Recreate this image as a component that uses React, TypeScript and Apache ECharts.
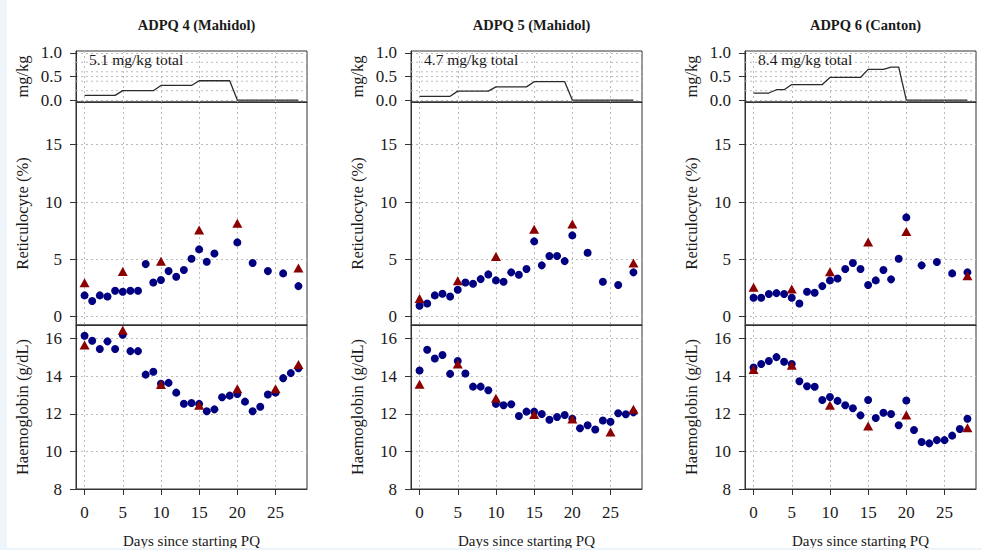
import React, { useEffect, useRef } from "react";
import * as echarts from "echarts";

// ---------- data ----------
const patients = ["ADPQ 4 (Mahidol)", "ADPQ 5 (Mahidol)", "ADPQ 6 (Canton)"];
const totals = ["5.1 mg/kg total", "4.7 mg/kg total", "8.4 mg/kg total"];

const doseDays = [0, 1, 2, 3, 4, 5, 6, 7, 8, 9, 10, 11, 12, 13, 14, 15, 16, 17, 18, 19, 20, 21, 22, 23, 24, 25, 26, 27, 28];
const dose4 = [0.1, 0.1, 0.1, 0.1, 0.1, 0.2, 0.2, 0.2, 0.2, 0.2, 0.31, 0.31, 0.31, 0.31, 0.31, 0.41, 0.41, 0.41, 0.41, 0.41, 0, 0, 0, 0, 0, 0, 0, 0, 0];
const dose5 = [0.08, 0.08, 0.08, 0.08, 0.08, 0.19, 0.19, 0.19, 0.19, 0.19, 0.28, 0.28, 0.28, 0.28, 0.28, 0.39, 0.39, 0.39, 0.39, 0.39, 0, 0, 0, 0, 0, 0, 0, 0, 0];
const dose6 = [0.15, 0.15, 0.15, 0.22, 0.22, 0.33, 0.33, 0.33, 0.33, 0.33, 0.48, 0.48, 0.48, 0.48, 0.48, 0.65, 0.65, 0.65, 0.7, 0.7, 0, 0, 0, 0, 0, 0, 0, 0, 0];

// reticulocyte (%) – daily measurements (circles)
const retDays4 = [0, 1, 2, 3, 4, 5, 6, 7, 8, 9, 10, 11, 12, 13, 14, 15, 16, 17, 20, 22, 24, 26, 28];
const ret4 = [1.86, 1.37, 1.86, 1.77, 2.27, 2.18, 2.27, 2.27, 4.59, 2.99, 3.2, 3.98, 3.49, 4.07, 5.06, 5.87, 4.8, 5.52, 6.48, 4.68, 3.98, 3.78, 2.67];
const retDays5 = [0, 1, 2, 3, 4, 5, 6, 7, 8, 9, 10, 11, 12, 13, 14, 15, 16, 17, 18, 19, 20, 22, 24, 26, 28];
const ret5 = [0.96, 1.16, 1.86, 2.0, 1.77, 2.35, 2.99, 2.88, 3.28, 3.69, 3.17, 3.05, 3.87, 3.66, 4.16, 6.57, 4.48, 5.29, 5.29, 4.85, 7.09, 5.58, 3.05, 2.76, 3.87];
const retDays6 = [0, 1, 2, 3, 4, 5, 6, 7, 8, 9, 10, 11, 12, 13, 14, 15, 16, 17, 18, 19, 20, 22, 24, 26, 28];
const ret6 = [1.66, 1.66, 1.98, 2.06, 1.98, 1.66, 1.16, 2.18, 2.09, 2.67, 3.17, 3.34, 4.16, 4.68, 4.16, 2.76, 3.17, 4.07, 3.26, 5.06, 8.66, 4.48, 4.77, 3.78, 3.87];

// reticulocyte (%) – reference lab (triangles)
const retTriDays = [0, 5, 10, 15, 20, 28];
const retTri4 = [2.97, 3.95, 4.83, 7.56, 8.14, 4.24];
const retTri5 = [1.6, 3.14, 5.26, 7.62, 8.08, 4.68];
const retTri6 = [2.56, 2.41, 3.92, 6.51, 7.44, 3.58];

// haemoglobin (g/dL) – daily (circles)
const hbDays = [0, 1, 2, 3, 4, 5, 6, 7, 8, 9, 10, 11, 12, 13, 14, 15, 16, 17, 18, 19, 20, 21, 22, 23, 24, 25, 26, 27, 28];
const hb4 = [16.16, 15.89, 15.45, 15.86, 15.45, 16.21, 15.34, 15.34, 14.09, 14.24, 13.6, 13.65, 13.13, 12.54, 12.58, 12.53, 12.14, 12.24, 12.88, 12.97, 13.06, 12.65, 12.14, 12.38, 13.03, 13.13, 13.9, 14.17, 14.43];
const hb5 = [14.31, 15.41, 14.95, 15.13, 14.13, 14.81, 14.15, 13.45, 13.45, 13.26, 12.53, 12.46, 12.51, 11.89, 12.12, 12.12, 11.99, 11.69, 11.83, 11.94, 11.74, 11.23, 11.39, 11.17, 11.65, 11.58, 12.03, 11.98, 12.08];
const hb6 = [14.47, 14.65, 14.81, 15.02, 14.77, 14.65, 13.74, 13.47, 13.44, 12.74, 12.9, 12.69, 12.46, 12.3, 11.92, 12.74, 11.78, 12.06, 11.99, 11.39, 12.71, 11.14, 10.5, 10.43, 10.6, 10.6, 10.84, 11.19, 11.74];

// haemoglobin (g/dL) – reference lab (triangles)
const hbTriDays45 = [0, 5, 10, 15, 20, 25, 28];
const hbTri4 = [15.66, 16.45, 13.56, 12.46, 13.33, 13.33, 14.63];
const hbTri5 = [13.58, 14.66, 12.83, 11.96, 11.73, 11.03, 12.24];
const hbTriDays6 = [0, 5, 10, 15, 20, 28];
const hbTri6 = [14.36, 14.59, 12.46, 11.35, 11.94, 11.26];

// axis ticks
const xTicks = [0, 5, 10, 15, 20, 25];
const doseTicks = [0, 0.5, 1.0];
const doseExtraGrid = [0.2, 0.4, 0.6, 0.8];
const retTicks = [0, 5, 10, 15];
const hbTicks = [8, 10, 12, 14, 16];

// ---------- layout/style ----------
const X_MIN = -1.12;
const X_MAX = 29.12;
const COL_LEFT = [76, 411, 745];
const COL_W = 231;
const ROWS = [
  { top: 51, h: 51 },
  { top: 102, h: 223 },
  { top: 325, h: 164 },
];
const SERIF = "'Liberation Serif', 'Times New Roman', serif";
const TXT = "#1a1a1a";
const AXC = "#333333";
const GRIDC = "#bcbcbc";
const BLUE = "#000080";
const RED = "#8B0000";

const zip = (a: number[], b: number[]) => a.map((x, i) => [x, b[i]]);

export default function App() {
  const ref = useRef<HTMLDivElement>(null);

  useEffect(() => {
    if (!ref.current) return;
    const chart = echarts.init(ref.current, undefined, { renderer: "svg" });

    const doses = [dose4, dose5, dose6];
    const rets = [zip(retDays4, ret4), zip(retDays5, ret5), zip(retDays6, ret6)];
    const retTris = [zip(retTriDays, retTri4), zip(retTriDays, retTri5), zip(retTriDays, retTri6)];
    const hbs = [zip(hbDays, hb4), zip(hbDays, hb5), zip(hbDays, hb6)];
    const hbTris = [zip(hbTriDays45, hbTri4), zip(hbTriDays45, hbTri5), zip(hbTriDays6, hbTri6)];

    const rowY = [
      { min: -0.04, max: 1.04, ticks: doseTicks, name: "mg/kg", fmt: (v: number) => v.toFixed(1) },
      { min: -0.72, max: 18.72, ticks: retTicks, name: "Reticulocyte (%)", fmt: (v: number) => String(v) },
      { min: 8, max: 16.73, ticks: hbTicks, name: "Haemoglobin (g/dL)", fmt: (v: number) => String(v) },
    ];

    const splitStyle = { show: true, lineStyle: { color: GRIDC, type: [2, 3], width: 1 } };

    const grids: any[] = [];
    const xAxes: any[] = [];
    const yAxes: any[] = [];
    const series: any[] = [];

    for (let c = 0; c < 3; c++) {
      for (let r = 0; r < 3; r++) {
        const g = c * 3 + r;
        const ry = rowY[r];
        grids.push({
          left: COL_LEFT[c],
          top: ROWS[r].top,
          width: COL_W,
          height: ROWS[r].h,
          show: true,
          borderColor: AXC,
          borderWidth: 1,
          backgroundColor: "transparent",
        });
        const bottom = r === 2;
        xAxes.push({
          type: "value",
          gridIndex: g,
          min: X_MIN,
          max: X_MAX,
          axisLine: { show: true, onZero: false, lineStyle: { color: AXC, width: 1 } },
          axisTick: { show: bottom, length: 6, lineStyle: { color: AXC }, customValues: xTicks },
          axisLabel: {
            show: bottom,
            customValues: xTicks,
            margin: 15,
            fontFamily: SERIF,
            fontSize: 17,
            color: TXT,
          },
          splitLine: { ...splitStyle, customValues: xTicks },
          name: bottom ? "Days since starting PQ" : "",
          nameLocation: "middle",
          nameGap: 44,
          nameTextStyle: { fontFamily: SERIF, fontSize: 15, color: TXT },
        });
        yAxes.push({
          type: "value",
          gridIndex: g,
          min: ry.min,
          max: ry.max,
          axisLine: { show: true, onZero: false, lineStyle: { color: AXC, width: 1 } },
          axisTick: { show: true, length: 6, lineStyle: { color: AXC }, customValues: ry.ticks },
          axisLabel: {
            show: true,
            customValues: ry.ticks,
            formatter: ry.fmt,
            margin: 14,
            fontFamily: SERIF,
            fontSize: 17,
            color: TXT,
          },
          splitLine: { ...splitStyle, customValues: ry.ticks },
          name: ry.name,
          nameLocation: "middle",
          nameRotate: 90,
          nameGap: 45,
          nameTextStyle: { fontFamily: SERIF, fontSize: 16.5, color: TXT },
        });

        if (r === 0) {
          // extra dotted guide lines between the labelled ticks of the dose panel
          doseExtraGrid.forEach((v) => {
            series.push({
              type: "line",
              xAxisIndex: g,
              yAxisIndex: g,
              data: [[X_MIN, v], [X_MAX, v]],
              symbol: "none",
              silent: true,
              lineStyle: { color: GRIDC, type: [2, 3], width: 1 },
              z: 1,
            });
          });
          series.push({
            type: "line",
            xAxisIndex: g,
            yAxisIndex: g,
            data: zip(doseDays, doses[c]),
            symbol: "none",
            lineStyle: { color: "#2b2b2b", width: 1.3 },
            z: 3,
          });
        } else {
          const circ = r === 1 ? rets[c] : hbs[c];
          const tri = r === 1 ? retTris[c] : hbTris[c];
          series.push({
            type: "scatter",
            xAxisIndex: g,
            yAxisIndex: g,
            data: circ,
            symbol: "circle",
            symbolSize: 8,
            itemStyle: { color: BLUE, opacity: 1 },
            z: 3,
          });
          series.push({
            type: "scatter",
            xAxisIndex: g,
            yAxisIndex: g,
            data: tri,
            symbol: "triangle",
            symbolSize: [10, 9],
            itemStyle: { color: RED, opacity: 1 },
            z: 4,
          });
        }
      }
    }

    const titles = patients.map((p, c) => ({
      text: p,
      left: COL_LEFT[c] + COL_W / 2,
      top: 12,
      textAlign: "center",
      textStyle: { fontFamily: SERIF, fontSize: 14.5, fontWeight: "bold", color: TXT },
    }));

    const graphics = totals.map((t, c) => ({
      type: "text",
      left: COL_LEFT[c] + 13,
      top: 51,
      style: { text: t, fontFamily: SERIF, fontSize: 15.5, fill: TXT },
      z: 10,
    }));

    chart.setOption({
      animation: false,
      backgroundColor: "#ffffff",
      title: titles,
      grid: grids,
      xAxis: xAxes,
      yAxis: yAxes,
      series,
      graphic: graphics,
    });

    return () => chart.dispose();
  }, []);

  return (
    <div style={{ position: "absolute", left: 0, top: 0, width: 982, height: 550, background: "#ffffff" }}>
      <div ref={ref} style={{ position: "absolute", left: 0, top: 0, width: 982, height: 550 }} />
      <div style={{ position: "absolute", left: 0, top: 0, width: 7, height: 550, background: "#eef5fa", pointerEvents: "none" }} />
      <div style={{ position: "absolute", left: 0, top: 548, width: 982, height: 2, background: "#eef5fa", pointerEvents: "none" }} />
    </div>
  );
}
